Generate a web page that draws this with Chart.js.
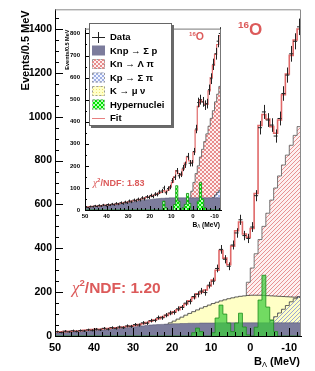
<!DOCTYPE html>
<html>
<head>
<meta charset="utf-8">
<script src="https://cdn.jsdelivr.net/npm/chart.js@4.4.1/dist/chart.umd.min.js"></script>
<style>
html, body { margin: 0; padding: 0; background: #fff; }
#wrap { position: relative; width: 315px; height: 371px; }
#main { position: absolute; left: 0; top: 0; }
#inset { position: absolute; left: 63px; top: 20px; background: #fff; }
</style>
</head>
<body>
<div id="wrap">
  <canvas id="main" width="315" height="371"></canvas>
  <canvas id="inset" width="163" height="212"></canvas>
</div>
<script>
// 1 MeV bins from B = 50 down to B = -13 (63 bins), first bin is 50..49
const binStart = 50;
const binWidth = 1;

const xTicks = [50, 40, 30, 20, 10, 0, -10];
const legendLabels = ['Data', 'Knp \u2192 \u03a3 p', 'Kn \u2192 \u039b \u03c0', 'Kp \u2192 \u03a3 \u03c0', 'K \u2192 \u03bc \u03bd', 'Hypernuclei', 'Fit'];

// ---- main spectrum ----
const dataMain = [
  20, 16, 22, 19, 24, 21, 25, 23, 28, 26,
  31, 28, 35, 31, 38, 35, 41, 38, 46, 44,
  52, 50, 60, 58, 70, 71, 84, 83, 95, 105,
  108, 124, 130, 150, 157, 180, 190, 205, 198, 232,
  250, 308, 395, 350, 318, 415, 470, 530, 458, 445,
  497, 640, 950, 1022, 985, 962, 912, 992, 1106, 1190,
  1287, 1344, 1410
];
const fitMain = [
  18, 19, 20, 21, 22, 23, 24, 26, 27, 29,
  30, 31, 33, 34, 36, 37, 39, 41, 43, 45,
  48, 52, 56, 61, 67, 73, 79, 86, 94, 102,
  110, 120, 132, 146, 160, 175, 192, 200, 210, 228,
  255, 300, 390, 355, 325, 410, 480, 520, 465, 450,
  490, 650, 960, 1010, 990, 955, 925, 985, 1100, 1195,
  1280, 1350, 1400
];
const knpMain = [
  14, 15, 16, 17, 18, 19, 20, 21, 22, 23,
  25, 26, 27, 29, 30, 32, 34, 36, 38, 40,
  42, 44, 46, 48, 50, 51, 52, 53, 54, 55,
  56, 56, 57, 57, 58, 58, 58, 59, 59, 59,
  59, 60, 60, 60, 60, 60, 60, 60, 60, 60,
  60, 60, 60, 60, 60, 60, 60, 60, 60, 60,
  60, 60, 60
];
const knMain = [
  0, 0, 0, 0, 0, 0, 0, 0, 0, 0,
  0, 0, 0, 0, 0, 0, 0, 0, 0, 0,
  0, 0, 0, 0, 0, 0, 0, 0, 0, 0,
  0, 0, 0, 0, 0, 0, 0, 0, 0, 0,
  0, 0, 0, 0, 0, 5, 35, 100, 175, 245,
  310, 375, 440, 500, 560, 620, 675, 730, 780, 825,
  870, 915, 955
];
const kpMain = [
  0, 0, 0, 0, 0, 0, 0, 0, 0, 0,
  0, 0, 0, 0, 0, 0, 0, 0, 0, 0,
  0, 0, 0, 0, 0, 0, 0, 0, 0, 0,
  0, 0, 0, 0, 0, 0, 0, 0, 0, 0,
  0, 0, 0, 0, 0, 0, 0, 0, 0, 0,
  0, 5, 20, 37, 54, 71, 88, 105, 122, 139,
  156, 170, 180
];
const kmunuMain = [
  0, 0, 0, 0, 0, 0, 0, 0, 0, 0,
  0, 0, 0, 1, 1, 2, 2, 3, 3, 4,
  5, 7, 10, 15, 22, 30, 38, 45, 52, 60,
  68, 77, 86, 95, 103, 111, 119, 127, 134, 141,
  148, 154, 160, 165, 170, 174, 178, 181, 183, 185,
  186, 186, 186, 185, 184, 183, 182, 181, 180, 179,
  178, 177, 176
];
const hyperMain = [
  0, 0, 0, 0, 0, 0, 0, 0, 0, 0,
  0, 0, 0, 0, 0, 0, 0, 0, 0, 0,
  0, 0, 0, 0, 0, 0, 0, 0, 0, 0,
  0, 0, 0, 0, 0, 15, 36, 20, 0, 0,
  15, 82, 141, 100, 59, 20, 59, 104, 41, 5,
  0, 40, 164, 277, 132, 73, 20, 0, 0, 0,
  0, 0, 0
];

// ---- inset spectrum ----
const dataIn = [
  14, 11, 16, 15, 19, 16, 21, 18, 23, 20,
  25, 22, 27, 24, 30, 27, 33, 29, 36, 33,
  41, 37, 45, 42, 49, 46, 55, 50, 60, 57,
  66, 61, 72, 70, 82, 86, 100, 78, 97, 104,
  133, 148, 177, 155, 162, 190, 205, 243, 212, 212,
  265, 367, 487, 500, 490, 475, 482, 545, 595, 660,
  708, 765, 800
];
const fitIn = [
  13, 14, 15, 16, 17, 18, 19, 20, 21, 22,
  23, 24, 25, 26, 27, 29, 30, 32, 34, 36,
  38, 40, 42, 44, 46, 48, 51, 54, 57, 60,
  63, 66, 69, 73, 78, 80, 88, 82, 90, 105,
  125, 150, 178, 165, 158, 185, 212, 240, 222, 215,
  262, 362, 470, 500, 490, 480, 478, 540, 600, 655,
  705, 750, 790
];
const knpIn = [
  12, 13, 14, 15, 16, 17, 18, 19, 20, 21,
  22, 23, 24, 25, 26, 28, 29, 30, 31, 33,
  34, 35, 37, 38, 40, 41, 43, 44, 46, 47,
  48, 49, 50, 51, 52, 53, 53, 54, 54, 55,
  55, 55, 55, 55, 55, 55, 55, 55, 55, 55,
  55, 55, 55, 55, 55, 55, 55, 55, 55, 55,
  55, 55, 55
];
const knIn = [
  0, 0, 0, 0, 0, 0, 0, 0, 0, 0,
  0, 0, 0, 0, 0, 0, 0, 0, 0, 0,
  0, 0, 0, 0, 0, 0, 0, 0, 0, 0,
  0, 0, 0, 0, 0, 0, 0, 0, 0, 0,
  0, 0, 0, 0, 0, 0, 0, 15, 45, 85,
  125, 165, 200, 240, 275, 310, 345, 380, 415, 450,
  490, 525, 560
];
const kpIn = [
  0, 0, 0, 0, 0, 0, 0, 0, 0, 0,
  0, 0, 0, 0, 0, 0, 0, 0, 0, 0,
  0, 0, 0, 0, 0, 0, 0, 0, 0, 0,
  0, 0, 0, 0, 0, 0, 0, 0, 0, 0,
  0, 0, 0, 0, 0, 0, 0, 0, 0, 0,
  0, 0, 0, 0, 0, 5, 18, 32, 45, 57,
  68, 80, 90
];
const hyperIn = [
  0, 0, 0, 0, 0, 0, 0, 0, 0, 0,
  0, 0, 0, 0, 0, 0, 0, 0, 0, 0,
  0, 0, 0, 0, 0, 0, 0, 0, 0, 0,
  0, 0, 0, 0, 0, 0, 40, 10, 0, 0,
  0, 25, 110, 40, 0, 10, 25, 75, 30, 0,
  0, 0, 40, 125, 50, 10, 0, 0, 0, 0,
  0, 0, 0
];

const FONT = '"Liberation Sans", Arial, sans-serif';
const RED = '#dc5a5a';

// histogram outline: one point per bin low edge, plus closing edge
function steps(vals, close) {
  const pts = vals.map((v, i) => ({ x: binStart - i * binWidth, y: v }));
  const end = binStart - vals.length * binWidth;
  pts.push({ x: end, y: vals[vals.length - 1] });
  if (close) pts.push({ x: end, y: 0 });
  return pts;
}
function centres(vals) {
  return vals.map((v, i) => ({ x: binStart - (i + 0.5) * binWidth, y: v }));
}

function makePattern(size, draw) {
  const c = document.createElement('canvas');
  c.width = c.height = size;
  const g = c.getContext('2d');
  draw(g, size);
  return g.createPattern(c, 'repeat');
}
function diag(g, s, bg, color, cross) {
  g.fillStyle = bg;
  g.fillRect(0, 0, s, s);
  g.strokeStyle = color;
  g.lineWidth = 1;
  g.beginPath();
  g.moveTo(0, s); g.lineTo(s, 0);
  g.moveTo(-1, 1); g.lineTo(1, -1);
  g.moveTo(s - 1, s + 1); g.lineTo(s + 1, s - 1);
  if (cross) {
    g.moveTo(0, 0); g.lineTo(s, s);
    g.moveTo(-1, s - 1); g.lineTo(1, s + 1);
    g.moveTo(s - 1, -1); g.lineTo(s + 1, 1);
  }
  g.stroke();
}
const pinkDiag = makePattern(4, (g, s) => diag(g, s, '#fdf0f0', '#e79292', false));
const pinkCross = makePattern(4, (g, s) => diag(g, s, '#fdf0f0', '#e88c8c', true));
const blueDiag = makePattern(4, (g, s) => diag(g, s, 'rgba(255,255,255,0)', '#9aa6d4', false));
const blueCross = makePattern(4, (g, s) => diag(g, s, '#f2f4ff', '#9fb0e4', true));
const yellowDots = makePattern(3, (g) => { g.fillStyle = '#ffffc8'; g.fillRect(0, 0, 3, 3); g.fillStyle = '#f0e070'; g.fillRect(0, 0, 1, 1); });
const greenCheck = makePattern(4, (g) => {
  g.fillStyle = '#b8ffb8'; g.fillRect(0, 0, 4, 4);
  g.fillStyle = '#00e000'; g.fillRect(0, 0, 2, 2); g.fillRect(2, 2, 2, 2);
});

function rich(ctx, x, y, parts, align) {
  let w = 0;
  parts.forEach(p => { ctx.font = p.font; w += ctx.measureText(p.t).width; });
  let cx = align === 'right' ? x - w : x;
  ctx.textAlign = 'left';
  parts.forEach(p => {
    ctx.font = p.font;
    ctx.fillText(p.t, cx, y + (p.dy || 0));
    cx += ctx.measureText(p.t).width;
  });
}

// vertical Poisson error bars on the data dataset
const errorBars = {
  id: 'errorBars',
  afterDatasetsDraw(chart) {
    const { ctx, scales: { y } } = chart;
    chart.data.datasets.forEach((ds, di) => {
      if (!ds.errors) return;
      const meta = chart.getDatasetMeta(di);
      ctx.save();
      ctx.strokeStyle = ds.borderColor;
      ctx.lineWidth = 1;
      ctx.beginPath();
      meta.data.forEach((pt, i) => {
        const v = ds.data[i].y, e = Math.sqrt(v);
        const x = Math.round(pt.x) + 0.5;
        ctx.moveTo(x, y.getPixelForValue(v - e));
        ctx.lineTo(x, y.getPixelForValue(v + e));
      });
      ctx.stroke();
      ctx.restore();
    });
  }
};

// ROOT-like frame: inward ticks, grey top/right border
const frame = {
  id: 'frame',
  afterDraw(chart, args, o) {
    const { ctx, chartArea: a, scales: { x, y } } = chart;
    ctx.save();
    ctx.strokeStyle = '#000';
    ctx.lineWidth = 1;
    ctx.beginPath();
    for (let v = 0; v <= y.max; v += o.yMinor) {
      const p = Math.round(y.getPixelForValue(v)) + 0.5;
      const len = v % o.yMajor === 0 ? o.major : o.minor;
      ctx.moveTo(a.left, p); ctx.lineTo(a.left + len, p);
    }
    for (let v = -12; v <= x.max; v += o.xMinor) {
      const p = Math.round(x.getPixelForValue(v)) + 0.5;
      const len = v % o.xMajor === 0 ? o.major : o.minor;
      ctx.moveTo(p, a.bottom); ctx.lineTo(p, a.bottom - len);
    }
    ctx.stroke();
    ctx.strokeStyle = o.color;
    ctx.beginPath();
    ctx.moveTo(a.left, a.top + 0.5);
    ctx.lineTo(a.right - 0.5, a.top + 0.5);
    ctx.lineTo(a.right - 0.5, a.bottom);
    ctx.stroke();
    ctx.restore();
  }
};

// text annotations, drawn per chart from options
const labels = {
  id: 'labels',
  afterDraw(chart, args, o) {
    const { ctx, chartArea: a } = chart;
    const s = o.scale;
    ctx.save();
    ctx.fillStyle = '#000';
    ctx.textBaseline = 'alphabetic';
    // y title
    ctx.save();
    ctx.translate(o.yTitleX, a.top + 1);
    ctx.rotate(-Math.PI / 2);
    ctx.textAlign = 'right';
    ctx.textBaseline = 'middle';
    ctx.font = 'bold ' + o.yTitleSize + 'px ' + FONT;
    ctx.fillText('Events/0.5 MeV', 0, 0);
    ctx.restore();
    // x title with subscript
    rich(ctx, a.right - 1, o.xTitleY, [
      { t: 'B', font: 'bold ' + (11 * s) + 'px ' + FONT },
      { t: '\u039b', font: (7.5 * s) + 'px ' + FONT, dy: 2 * s },
      { t: ' (MeV)', font: 'bold ' + (11 * s) + 'px ' + FONT }
    ], 'right');
    ctx.fillStyle = RED;
    // chi2
    rich(ctx, o.chiX, o.chiY, [
      { t: '\u03c7', font: 'italic ' + o.chiSize * 1.1 + 'px "Liberation Serif", serif' },
      { t: '2', font: 'bold ' + o.chiSize * 0.62 + 'px ' + FONT, dy: -o.chiSize * 0.42 },
      { t: '/NDF: ' + o.chi, font: 'bold ' + o.chiSize + 'px ' + FONT }
    ]);
    // nucleus
    rich(ctx, o.nucX, o.nucY, [
      { t: '16', font: 'bold ' + o.nucSize * 0.58 + 'px ' + FONT, dy: -o.nucSize * 0.4 },
      { t: 'O', font: 'bold ' + o.nucSize + 'px ' + FONT }
    ]);
    ctx.restore();
  }
};

const insetLegend = {
  id: 'insetLegend',
  afterDraw(chart) {
    const ctx = chart.ctx;
    const bx = 26, by = 3, bw = 83, bh = 103;
    ctx.save();
    ctx.fillStyle = '#6a6a6a';
    ctx.fillRect(bx + 2, by + 2, bw, bh);
    ctx.fillStyle = '#fff';
    ctx.fillRect(bx, by, bw, bh);
    ctx.strokeStyle = '#666';
    ctx.lineWidth = 1;
    ctx.strokeRect(bx + 0.5, by + 0.5, bw - 1, bh - 1);
    const fills = [null, '#7c7c9c', pinkCross, blueCross, yellowDots, greenCheck, null];
    legendLabels.forEach((t, i) => {
      const y = by + 14 + i * 13.5;
      const sx = bx + 3, sw = 13;
      if (i === 0) {
        ctx.strokeStyle = '#222';
        ctx.beginPath();
        ctx.moveTo(sx, y + 0.5); ctx.lineTo(sx + sw, y + 0.5);
        ctx.moveTo(sx + 6.5, y - 5); ctx.lineTo(sx + 6.5, y + 6);
        ctx.stroke();
      } else if (i === 6) {
        ctx.strokeStyle = '#e88080';
        ctx.beginPath();
        ctx.moveTo(sx, y + 0.5); ctx.lineTo(sx + sw, y + 0.5);
        ctx.stroke();
      } else {
        ctx.fillStyle = fills[i];
        ctx.fillRect(sx, y - 5, sw, 10);
        if (i > 1) {
          ctx.strokeStyle = '#999';
          ctx.setLineDash([2, 2]);
          ctx.strokeRect(sx + 0.5, y - 4.5, sw - 1, 9);
          ctx.setLineDash([]);
        }
      }
      ctx.fillStyle = '#000';
      ctx.font = 'bold 9.5px ' + FONT;
      ctx.textBaseline = 'middle';
      ctx.textAlign = 'left';
      ctx.fillText(t, bx + 21, y + 0.5);
    });
    ctx.restore();
  }
};

function buildChart(id, d, look) {
  const tickFont = { family: FONT, weight: 'bold' };
  const sets = [
    { label: 'Data', data: centres(d.data), showLine: false, pointStyle: 'line', pointRadius: look.pointRadius,
      borderColor: '#222', borderWidth: 1, errors: true, order: 1 },
    { label: 'Fit', data: steps(d.fit, true), stepped: 'before', borderColor: '#e06868', borderWidth: look.fitWidth,
      pointRadius: 0, fill: false, order: 2 },
    { label: 'Hypernuclei', data: steps(d.hyper), stepped: 'before', borderColor: look.hyperLine, borderWidth: 0.8,
      backgroundColor: look.hyperFill, fill: 'origin', pointRadius: 0, order: 3 },
    { label: 'Knp', data: steps(d.knp), stepped: 'before', borderColor: '#5a5a78', borderWidth: 0.6,
      backgroundColor: '#7c7c9c', fill: 'origin', pointRadius: 0, order: 4 },
    { label: 'Kp', data: steps(d.kp), stepped: 'before', borderColor: '#444', borderWidth: 0.8,
      backgroundColor: look.kpFill, fill: 'origin', pointRadius: 0, order: 5 }
  ];
  if (d.kmunu) {
    sets.push({ label: 'Kmunu', data: steps(d.kmunu), stepped: 'before', borderColor: '#333', borderWidth: 0.8,
      backgroundColor: '#ffffc6', fill: 'origin', pointRadius: 0, order: 6 });
  }
  sets.push({ label: 'Kn', data: steps(d.kn), stepped: 'before', borderColor: '#555', borderWidth: 0.8,
    backgroundColor: look.knFill, fill: 'origin', pointRadius: 0, order: 7 });

  return new Chart(document.getElementById(id), {
    type: 'line',
    data: { datasets: sets },
    options: {
      responsive: false,
      animation: false,
      devicePixelRatio: 1,
      layout: { padding: look.padding },
      plugins: {
        legend: { display: false },
        tooltip: { enabled: false },
        frame: look.frame,
        labels: look.labels
      },
      scales: {
        x: {
          type: 'linear', reverse: true, min: -13, max: 50,
          afterBuildTicks: s => { s.ticks = xTicks.map(v => ({ value: v })); },
          ticks: { color: '#000', padding: look.xPad, maxRotation: 0, autoSkip: false,
            font: Object.assign({ size: look.xFont }, tickFont), callback: v => String(v) },
          grid: { drawOnChartArea: false, drawTicks: false },
          border: { color: '#000', width: 1 },
          afterFit: s => { s.height = look.xHeight; }
        },
        y: {
          min: 0, max: look.yMax,
          ticks: { stepSize: look.yStep, includeBounds: false, color: '#000', padding: look.yPad,
            font: Object.assign({ size: look.yFont }, tickFont), callback: v => String(v) },
          grid: { drawOnChartArea: false, drawTicks: false },
          border: { color: '#000', width: 1 },
          afterFit: s => { s.width = look.yWidth; }
        }
      }
    },
    plugins: [errorBars, frame, labels].concat(look.extra || [])
  });
}

buildChart('main',
  { data: dataMain, fit: fitMain, knp: knpMain, kn: knMain, kp: kpMain, kmunu: kmunuMain, hyper: hyperMain },
  {
    pointRadius: 2, fitWidth: 1.6,
    hyperLine: '#1c8c1c', hyperFill: 'rgba(60,205,60,0.72)',
    kpFill: blueDiag, knFill: pinkDiag,
    padding: { top: 8, right: 14, left: 0, bottom: 0 },
    xPad: 5, xFont: 11, xHeight: 35,
    yMax: 1490, yStep: 200, yPad: 3, yFont: 10.5, yWidth: 55,
    frame: { yMinor: 50, yMajor: 200, xMinor: 2, xMajor: 10, major: 8, minor: 4, color: '#8a8a8a' },
    labels: { scale: 1, yTitleX: 26, yTitleSize: 11, xTitleY: 365,
      chi: '1.20', chiX: 72, chiY: 293, chiSize: 15.5,
      nucX: 238, nucY: 35, nucSize: 17 }
  });

buildChart('inset',
  { data: dataIn, fit: fitIn, knp: knpIn, kn: knIn, kp: kpIn, hyper: hyperIn },
  {
    pointRadius: 1.1, fitWidth: 1.2,
    hyperLine: '#109010', hyperFill: greenCheck,
    kpFill: blueCross, knFill: pinkCross,
    padding: { top: 4, right: 2, left: 0, bottom: 0 },
    xPad: 3, xFont: 6, xHeight: 22,
    yMax: 822, yStep: 100, yPad: 5, yFont: 6, yWidth: 22,
    frame: { yMinor: 50, yMajor: 100, xMinor: 2, xMajor: 10, major: 4, minor: 2, color: '#777' },
    labels: { scale: 0.6, yTitleX: 4.5, yTitleSize: 5.5, xTitleY: 207,
      chi: '1.83', chiX: 30, chiY: 166, chiSize: 9,
      nucX: 126, nucY: 20, nucSize: 10.5 },
    extra: [insetLegend]
  });
</script>
</body>
</html>
